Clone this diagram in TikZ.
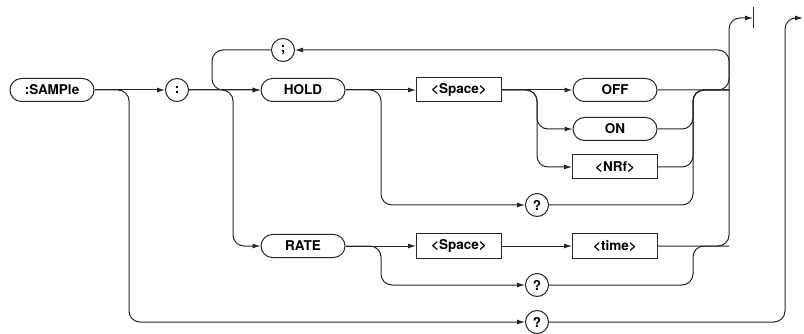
\documentclass[tikz,border=0pt]{standalone}
\usepackage{fontspec}
\setsansfont{TeX Gyre Heros}
\usetikzlibrary{arrows.meta}

\begin{document}
\begin{tikzpicture}[x=1pt,y=-1pt,
  every node/.style={draw=black!85,line width=1pt,font=\fontsize{13.5}{15}\sffamily\bfseries,inner sep=0pt},
  pill/.style={rectangle,rounded corners=11.5pt,minimum width=84pt,minimum height=23pt},
  keybox/.style={rectangle,minimum width=85pt,minimum height=24pt},
  sym/.style={circle,minimum size=23pt},
  line/.style={draw=black!85,line width=1pt,rounded corners=11pt},
  flow/.style={line,-{Latex[length=8pt,width=5pt]}}]
\useasboundingbox (0,0) rectangle (804,334);

\node[pill]   (sample) at (52,90)  {:SAMPle};
\node[sym]    (colon)  at (177,90) {:};
\node[sym]    (semi)   at (283,50) {;};
\node[pill]   (hold)   at (303,90) {HOLD};
\node[keybox] (sp1)    at (459,90) {<Space>};
\node[pill]   (off)    at (615,90) {OFF};
\node[pill]   (on)     at (615,129) {ON};
\node[keybox] (nrf)    at (615,167) {<NRf>};
\node[sym]    (q1)     at (537,205) {?};
\node[pill]   (rate)   at (303,246) {RATE};
\node[keybox] (sp2)    at (459,246) {<Space>};
\node[keybox] (time)   at (615,246) {<time>};
\node[sym]    (q2)     at (537,285) {?};
\node[sym]    (q3)     at (537,322) {?};

\coordinate (j1) at (129,0);
\coordinate (j2) at (212,0);
\coordinate (j3) at (233,0);
\coordinate (j4) at (381,0);
\coordinate (j5) at (537,0);
\coordinate (j6) at (693,0);
\coordinate (j7) at (729,0);
\coordinate (j8) at (785,0);
\coordinate (stop) at (753,18);
\coordinate (next) at (803,18);

\draw[flow] (sample) -- (colon);
\draw[flow] (sample.east) -| (j1 |- q3) -- (q3);
\draw[flow] (colon) -- (hold);
\draw[flow] (semi.west) -| (j2 |- hold) -- (hold);
\draw[flow] (colon.east) -| (j3 |- rate) -- (rate);
\draw[flow] (hold) -- (sp1);
\draw[flow] (hold.east) -| (j4 |- q1) -- (q1);
\draw[flow] (sp1) -- (off);
\draw[flow] (sp1.east) -| (j5 |- on) -- (on);
\draw[flow] (sp1.east) -| (j5 |- nrf) -- (nrf);
\draw[flow] (off.east) -| (j7 |- stop) -- (stop);
\draw[flow] (j7 |- off) |- (semi.east);
\foreach \n in {on,nrf,q1}
  \draw[line] (\n.east) -| (j6 |- off) -- (j7 |- off);
\draw[flow] (rate) -- (sp2);
\draw[flow] (sp2) -- (time);
\draw[flow] (rate.east) -| (j4 |- q2) -- (q2);
\draw[line] (time.east) -| (j7 |- off);
\draw[line] (q2.east) -| (j6 |- time) -- (j7 |- time);
\draw[flow] (q3.east) -| (j8 |- next) -- (next);
\draw[line] ([yshift=11pt]stop) -- ([yshift=-10pt]stop);
\end{tikzpicture}
\end{document}
